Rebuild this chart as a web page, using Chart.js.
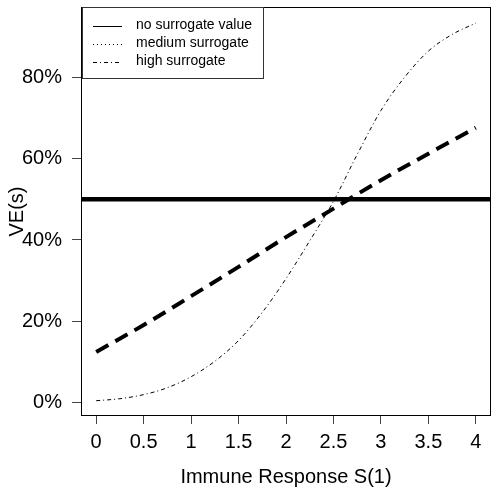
<!DOCTYPE html>
<html>
<head>
<meta charset="utf-8">
<script src="https://cdn.jsdelivr.net/npm/chart.js@4/dist/chart.umd.min.js"></script>
<style>
html,body{margin:0;padding:0;background:#fff;}
#wrap{width:493px;height:488px;position:relative;}
</style>
</head>
<body>
<div id="wrap"><canvas id="c" width="493" height="488"></canvas></div>
<script>
// ---- data ----
const seriesLabels = ['no surrogate value', 'medium surrogate', 'high surrogate'];
const noSurrogateVE = 0.5;
const mediumS  = [0, 0.25, 0.5, 0.75, 1, 1.25, 1.5, 1.75, 2, 2.25, 2.5, 2.75, 3, 3.25, 3.5, 3.75, 4];
const mediumVE = [0.005, 0.010, 0.020, 0.037, 0.064, 0.102, 0.153, 0.222, 0.305, 0.398, 0.495, 0.610, 0.718, 0.800, 0.864, 0.905, 0.933];
const highS  = [0, 0.5, 1, 1.5, 2, 2.5, 3, 3.5, 4];
const highVE = [0.125, 0.191, 0.262, 0.334, 0.407, 0.477, 0.547, 0.612, 0.676];
const xTickValues = [0, 0.5, 1, 1.5, 2, 2.5, 3, 3.5, 4];
const xTickLabels = ['0', '0.5', '1', '1.5', '2', '2.5', '3', '3.5', '4'];
const yTickValues = [0, 0.2, 0.4, 0.6, 0.8];
const yTickLabels = ['0%', '20%', '40%', '60%', '80%'];
const xTitle = 'Immune Response S(1)';
const yTitle = 'VE(s)';

// axis ranges (R style 4% extension)
const xMin = -0.16, xMax = 4.16;
const yMin = -0.0325, yMax = 0.9725;

Chart.defaults.font.family = "'Liberation Sans', Arial, Helvetica, sans-serif";
Chart.defaults.color = '#000';

const toPts = (xs, ys) => xs.map((x, i) => ({x: x, y: ys[i]}));

const boxPlugin = {
  id: 'boxPlugin',
  afterDatasetsDraw(chart) {
    const {ctx, chartArea: a} = chart;
    ctx.save();
    ctx.strokeStyle = '#000';
    ctx.lineWidth = 1;
    ctx.strokeRect(Math.round(a.left) + 0.5, Math.round(a.top) + 0.5,
                   Math.round(a.right - a.left) - 1, Math.round(a.bottom - a.top) - 1);
    // legend (top-left, inside plot)
    const lx = a.left + 1, ly = a.top, lw = 182, lh = 72;
    ctx.fillStyle = '#fff';
    ctx.fillRect(lx, ly, lw, lh);
    ctx.strokeStyle = '#333';
    ctx.strokeRect(lx + 0.5, ly + 0.5, lw - 1, lh - 1);
    const dashes = [[], [1, 3], [4, 3, 1, 3]];
    ctx.font = "14px 'Liberation Sans', Arial, sans-serif";
    ctx.textBaseline = 'middle';
    ctx.textAlign = 'left';
    ctx.fillStyle = '#000';
    for (let i = 0; i < seriesLabels.length; i++) {
      const yy = ly + 18.5 + i * 18;
      ctx.beginPath();
      ctx.setLineDash(dashes[i]);
      ctx.strokeStyle = '#000';
      ctx.lineWidth = 1;
      ctx.moveTo(lx + 11, Math.round(yy) + 0.5);
      ctx.lineTo(lx + 40, Math.round(yy) + 0.5);
      ctx.stroke();
      ctx.setLineDash([]);
      ctx.fillText(seriesLabels[i], lx + 54, yy);
    }
    ctx.restore();
  }
};

new Chart(document.getElementById('c'), {
  type: 'scatter',
  data: {
    datasets: [
      {
        label: seriesLabels[0],
        data: toPts([xMin, xMax], [noSurrogateVE, noSurrogateVE]),
        showLine: true, borderColor: '#000', borderWidth: 4.5,
        pointRadius: 0, fill: false
      },
      {
        label: seriesLabels[1],
        data: toPts(mediumS, mediumVE),
        showLine: true, borderColor: '#000', borderWidth: 1,
        borderDash: [4, 3, 1, 3], cubicInterpolationMode: 'monotone',
        pointRadius: 0, fill: false
      },
      {
        label: seriesLabels[2],
        data: toPts(highS, highVE),
        showLine: true, borderColor: '#000', borderWidth: 4,
        borderDash: [14, 8], borderCapStyle: 'butt', cubicInterpolationMode: 'monotone',
        pointRadius: 0, fill: false
      }
    ]
  },
  options: {
    responsive: false,
    animation: false,
    devicePixelRatio: 1,
    layout: {padding: {top: 7, right: 2, left: 0, bottom: 0}},
    plugins: {legend: {display: false}, tooltip: {enabled: false}},
    scales: {
      x: {
        type: 'linear', min: xMin, max: xMax,
        afterBuildTicks: s => { s.ticks = xTickValues.map(v => ({value: v})); },
        afterFit: s => { s.height = 72; s.paddingLeft = 0; s.paddingRight = 0; },
        border: {display: false},
        grid: {drawOnChartArea: false, drawTicks: true, tickLength: 8, color: '#444', tickWidth: 1},
        ticks: {
          font: {size: 20}, padding: 6, maxRotation: 0, autoSkip: false,
          callback: (v) => { const i = xTickValues.indexOf(v); return i >= 0 ? xTickLabels[i] : ''; }
        },
        title: {display: true, text: xTitle, font: {size: 20, lineHeight: 1}, padding: {top: 0, bottom: 1}}
      },
      y: {
        type: 'linear', min: yMin, max: yMax,
        afterBuildTicks: s => { s.ticks = yTickValues.map(v => ({value: v})); },
        afterFit: s => { s.width = 81; s.paddingTop = 0; s.paddingBottom = 0; },
        border: {display: false},
        grid: {drawOnChartArea: false, drawTicks: true, tickLength: 9, color: '#444', tickWidth: 1},
        ticks: {
          font: {size: 20}, padding: 10, autoSkip: false,
          callback: (v) => { const i = yTickValues.indexOf(v); return i >= 0 ? yTickLabels[i] : ''; }
        },
        title: {display: true, text: yTitle, font: {size: 20, lineHeight: 1}, padding: {top: 7, bottom: 0}}
      }
    }
  },
  plugins: [boxPlugin]
});
</script>
</body>
</html>
